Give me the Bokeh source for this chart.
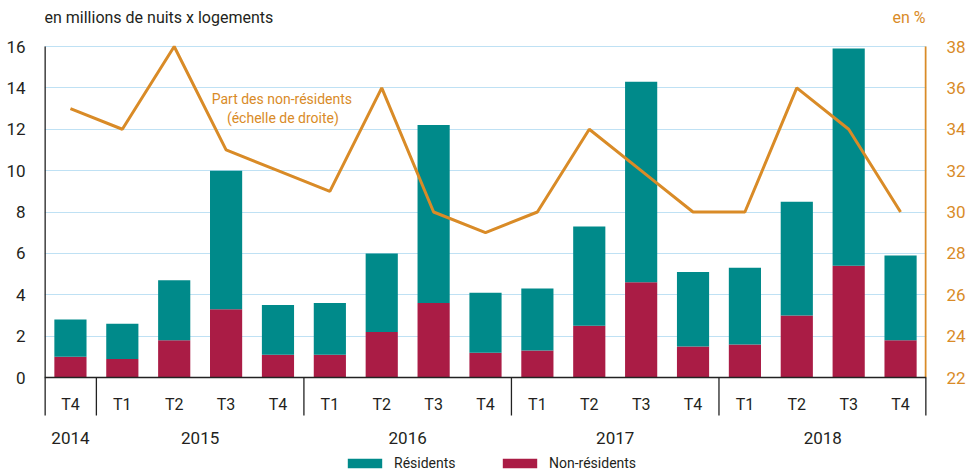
from bokeh.plotting import figure
from bokeh.models import Range1d, LinearAxis, FixedTicker, ColumnDataSource, Legend, LegendItem
from bokeh.core.properties import value
from bokeh.embed import file_html
from bokeh.resources import INLINE

# ---------------- data ----------------
quarters = ["T4", "T1", "T2", "T3", "T4", "T1", "T2", "T3", "T4",
            "T1", "T2", "T3", "T4", "T1", "T2", "T3", "T4"]
quarter_years = ["2014", "2015", "2015", "2015", "2015", "2016", "2016", "2016", "2016",
                 "2017", "2017", "2017", "2017", "2018", "2018", "2018", "2018"]
non_residents = [1.0, 0.9, 1.8, 3.3, 1.1, 1.1, 2.2, 3.6, 1.2,
                 1.3, 2.5, 4.6, 1.5, 1.6, 3.0, 5.4, 1.8]
residents = [1.8, 1.7, 2.9, 6.7, 2.4, 2.5, 3.8, 8.6, 2.9,
             3.0, 4.8, 9.7, 3.6, 3.7, 5.5, 10.5, 4.1]
part_non_residents = [35, 34, 38, 33, 32, 31, 36, 30, 29,
                      30, 34, 32, 30, 30, 36, 34, 30]
left_ticks = [0, 2, 4, 6, 8, 10, 12, 14, 16]
right_ticks = [22, 24, 26, 28, 30, 32, 34, 36, 38]

# ---------------- style ----------------
FONT = "Roboto"
TEAL = "#008A8A"
CRIMSON = "#AA1C45"
ORANGE = "#D98B27"
TXT = "#231F20"
GRID = "#BFE1F4"

W, H = 968, 471
FL, FR = 44, 932          # frame left/right in px
Y0PX, YTOPPX = 377, 46    # pixel rows of y=0 and y=16
n = len(quarters)
ppu = (Y0PX - YTOPPX) / (left_ticks[-1] - left_ticks[0])
y_start = -(H - Y0PX) / ppu
y_end = left_ticks[-1] + YTOPPX / ppu


def px_x(px):
    return (px - FL) / (FR - FL) * n


def px_y(py):
    return (Y0PX - py) / ppu


p = figure(width=W, height=H, x_range=Range1d(0, n), y_range=Range1d(y_start, y_end),
           output_backend="svg", toolbar_location=None, x_axis_location=None,
           min_border_left=FL, min_border_right=W - FR, min_border_top=0, min_border_bottom=0)
p.outline_line_color = None
p.background_fill_color = "white"
p.border_fill_color = "white"
p.xgrid.visible = False
p.ygrid.grid_line_color = GRID
p.ygrid.grid_line_width = 1

ax = p.yaxis[0]
ax.ticker = FixedTicker(ticks=left_ticks)
ax.axis_line_color = None
ax.major_tick_line_color = None
ax.minor_tick_line_color = None
ax.major_label_standoff = 13
ax.major_label_text_font = FONT
ax.major_label_text_font_size = "17px"
ax.major_label_text_color = TXT

p.extra_y_ranges = {"pct": Range1d(right_ticks[0] + y_start, right_ticks[0] + y_end)}
rax = LinearAxis(y_range_name="pct", ticker=FixedTicker(ticks=right_ticks))
rax.axis_line_color = None
rax.major_tick_line_color = None
rax.minor_tick_line_color = None
rax.major_label_standoff = 14
rax.major_label_text_font = FONT
rax.major_label_text_font_size = "17px"
rax.major_label_text_color = ORANGE
p.add_layout(rax, "right")

xs = [i + 0.5 for i in range(n)]
src = ColumnDataSource(dict(x=xs, nr=non_residents, res=residents, pct=part_non_residents))
r_nr, r_res = p.vbar_stack(["nr", "res"], x="x", width=0.62, color=[CRIMSON, TEAL],
                           line_color=None, source=src)

p.line("x", "pct", source=src, y_range_name="pct", color=ORANGE, line_width=3)

# axes lines and separators
bottom = px_y(415)
bounds = [0] + [i for i in range(1, n) if quarter_years[i] != quarter_years[i - 1]] + [n]
p.segment(x0=bounds[1:-1], y0=[0] * (len(bounds) - 2), x1=bounds[1:-1],
          y1=[bottom] * (len(bounds) - 2), color="#222222", line_width=1.3)
p.segment(x0=[0], y0=[bottom], x1=[0], y1=[left_ticks[-1]], color="#222222", line_width=2.6)
p.segment(x0=[n], y0=[bottom], x1=[n], y1=[0], color="#222222", line_width=2.6)
p.segment(x0=[n], y0=[0], x1=[n], y1=[left_ticks[-1]], color=ORANGE, line_width=3.5)
p.segment(x0=[0], y0=[0], x1=[n], y1=[0], color="#222222", line_width=1.5)

# quarter and year labels
p.text(x=xs, y=[px_y(404)] * n, text=quarters, text_align="center", text_baseline="middle",
       text_font=value(FONT), text_font_size="16px", text_color=TXT)
yrs = []
for y in quarter_years:
    if y not in yrs:
        yrs.append(y)
ycent = []
for y in yrs:
    idx = [i for i, q in enumerate(quarter_years) if q == y]
    ycent.append((min(idx) + max(idx) + 1) / 2)
p.text(x=ycent, y=[px_y(437)] * len(yrs), text=yrs, text_align="center", text_baseline="middle",
       text_font=value(FONT), text_font_size="17px", text_color=TXT)

# titles
p.text(x=[px_x(44)], y=[px_y(17)], text=["en millions de nuits x logements"], text_align="left",
       text_baseline="middle", text_font=value(FONT), text_font_size="16px", text_color=TXT)
p.text(x=[px_x(931)], y=[px_y(17)], text=["en %"], text_align="right",
       text_baseline="middle", text_font=value(FONT), text_font_size="16px", text_color=ORANGE)

# annotation
p.text(x=[px_x(283), px_x(284)], y=[px_y(98), px_y(117)],
       text=["Part des non-résidents", "(échelle de droite)"], text_align="center",
       text_baseline="middle", text_font=value(FONT), text_font_size="14px", text_color=ORANGE)

# legends
for rend, lab, xpx in [(r_res, "Résidents", 343), (r_nr, "Non-résidents", 498)]:
    leg = Legend(items=[LegendItem(label=lab, renderers=[rend])], location=(xpx - FL, 0),
                 orientation="horizontal", glyph_width=43, glyph_height=12, label_standoff=8,
                 padding=0, margin=0, border_line_color=None, background_fill_alpha=0,
                 label_text_font=FONT, label_text_font_size="14px", label_text_color=TXT)
    p.add_layout(leg)

open("out.html", "w").write(file_html(p, INLINE))
